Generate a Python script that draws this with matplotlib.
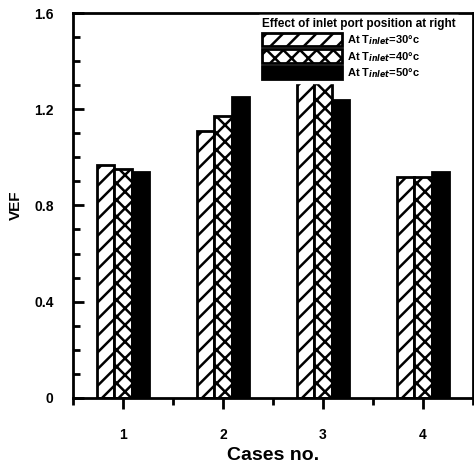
import matplotlib
matplotlib.use("Agg")
import matplotlib.pyplot as plt
import numpy as np
from matplotlib.ticker import MultipleLocator

plt.rcParams['font.family'] = ['Liberation Sans', 'DejaVu Sans']
plt.rcParams['font.weight'] = 'bold'
plt.rcParams['hatch.linewidth'] = 1.8

cases = [1, 2, 3, 4]
series_labels = ["At T$_{inlet}$=30\u00b0c", "At T$_{inlet}$=40\u00b0c", "At T$_{inlet}$=50\u00b0c"]
vef_30 = [0.97, 1.11, 1.36, 0.92]
vef_40 = [0.95, 1.17, 1.33, 0.92]
vef_50 = [0.94, 1.25, 1.24, 0.94]

fig = plt.figure(figsize=(4.74, 4.68), dpi=100)
ax = fig.add_axes([0.154, 0.15, 0.844, 0.822])

x = np.array(cases, dtype=float)
w = 0.175
styles = [dict(facecolor='white', hatch='//'),
          dict(facecolor='white', hatch='xx'),
          dict(facecolor='black', hatch=None)]
for i, (vals, lab, st) in enumerate(zip([vef_30, vef_40, vef_50], series_labels, styles)):
    ax.bar(x + (i - 1) * w, vals, width=w, edgecolor='black', linewidth=2.0,
           label=lab, zorder=2, **st)

ax.set_xlim(0.5, 4.5)
ax.set_ylim(0, 1.6)
ax.yaxis.set_minor_locator(MultipleLocator(0.1))
ax.xaxis.set_minor_locator(MultipleLocator(0.5))
ax.set_yticks([0, 0.4, 0.8, 1.2, 1.6])
ax.set_yticklabels(['0', '0.4', '0.8', '1.2', '1.6'])
ax.set_xticks(cases)
ax.set_xticklabels([str(c) for c in cases])

ax.tick_params(axis='y', which='major', direction='in', length=8, width=2, labelsize=10, pad=14)
ax.tick_params(axis='y', which='minor', direction='in', length=5, width=2)
ax.tick_params(axis='x', which='major', direction='out', length=8, width=2, labelsize=10, pad=14)
ax.tick_params(axis='x', which='minor', direction='out', length=5, width=2)

for s in ax.spines.values():
    s.set_linewidth(2)

ax.set_ylabel("VEF", fontsize=11, fontweight='bold', labelpad=8)
ax.set_xlabel("Cases no.", fontsize=14, fontweight='bold', labelpad=3)

leg = ax.legend(title="Effect of inlet port position at right", loc='upper left',
                bbox_to_anchor=(0.465, 0.995), fontsize=8, title_fontsize=8.5,
                handlelength=7.2, handleheight=1.45, handletextpad=0.5,
                labelspacing=0.25, borderpad=0.25, borderaxespad=0.0,
                frameon=True, fancybox=False,
                edgecolor='white', facecolor='white', framealpha=1)
leg._legend_box.align = "left"
leg.get_title().set_fontweight('bold')
leg.set_zorder(5)
for t in leg.get_texts():
    t.set_fontweight('bold')

fig.savefig("out.png", dpi=100)
